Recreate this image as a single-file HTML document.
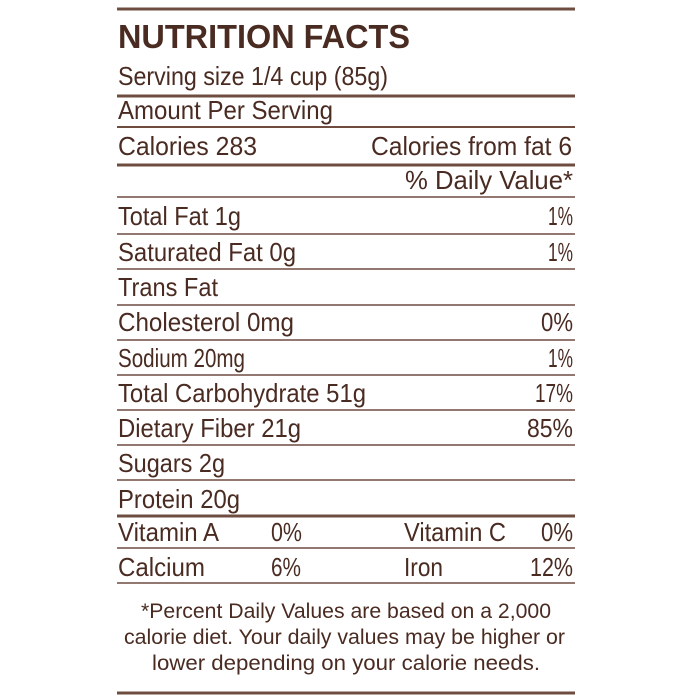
<!DOCTYPE html>
<html><head><style>html,body{margin:0;padding:0;background:#fff}svg{display:block}</style></head>
<body>
<svg width="700" height="700" xmlns="http://www.w3.org/2000/svg">
<g stroke="#6e4c40">
<line x1="117" x2="575" y1="9" y2="9" stroke-width="3"/>
<line x1="117" x2="575" y1="96" y2="96" stroke-width="3"/>
<line x1="117" x2="575" y1="127" y2="127" stroke-width="2"/>
<line x1="117" x2="575" y1="165" y2="165" stroke-width="3"/>
<line x1="117" x2="575" y1="197" y2="197" stroke-width="1.6"/>
<line x1="117" x2="575" y1="234" y2="234" stroke-width="1.6"/>
<line x1="117" x2="575" y1="269" y2="269" stroke-width="1.6"/>
<line x1="117" x2="575" y1="305" y2="305" stroke-width="1.6"/>
<line x1="117" x2="575" y1="340" y2="340" stroke-width="1.6"/>
<line x1="117" x2="575" y1="375" y2="375" stroke-width="1.6"/>
<line x1="117" x2="575" y1="410" y2="410" stroke-width="1.6"/>
<line x1="117" x2="575" y1="445" y2="445" stroke-width="1.6"/>
<line x1="117" x2="575" y1="480" y2="480" stroke-width="1.6"/>
<line x1="117" x2="575" y1="516" y2="516" stroke-width="3"/>
<line x1="117" x2="575" y1="548" y2="548" stroke-width="1.6"/>
<line x1="117" x2="575" y1="583" y2="583" stroke-width="1.6"/>
<line x1="117" x2="575" y1="693" y2="693" stroke-width="3"/>
</g>
<g fill="#4a2b22" font-family="Liberation Sans, sans-serif" font-size="26">
<text x="118" y="48" font-size="33" font-weight="bold" textLength="292" lengthAdjust="spacingAndGlyphs">NUTRITION FACTS</text>
<text x="118" y="85" textLength="270" lengthAdjust="spacingAndGlyphs">Serving size 1/4 cup (85g)</text>
<text x="118" y="119" textLength="215" lengthAdjust="spacingAndGlyphs">Amount Per Serving</text>
<text x="118" y="155" textLength="139" lengthAdjust="spacingAndGlyphs">Calories  283</text>
<text x="371" y="155" textLength="201" lengthAdjust="spacingAndGlyphs">Calories from fat 6</text>
<text x="405" y="189" textLength="168" lengthAdjust="spacingAndGlyphs">% Daily Value*</text>
<text x="118" y="225" textLength="123" lengthAdjust="spacingAndGlyphs">Total Fat 1g</text>
<text x="548" y="225" textLength="25" lengthAdjust="spacingAndGlyphs">1%</text>
<text x="118" y="261" textLength="178" lengthAdjust="spacingAndGlyphs">Saturated Fat 0g</text>
<text x="548" y="261" textLength="25" lengthAdjust="spacingAndGlyphs">1%</text>
<text x="118" y="296" textLength="100" lengthAdjust="spacingAndGlyphs">Trans Fat</text>
<text x="118" y="331" textLength="176" lengthAdjust="spacingAndGlyphs">Cholesterol 0mg</text>
<text x="541" y="331" textLength="32" lengthAdjust="spacingAndGlyphs">0%</text>
<text x="118" y="367" textLength="127" lengthAdjust="spacingAndGlyphs">Sodium 20mg</text>
<text x="548" y="367" textLength="25" lengthAdjust="spacingAndGlyphs">1%</text>
<text x="118" y="402" textLength="248" lengthAdjust="spacingAndGlyphs">Total Carbohydrate 51g</text>
<text x="535" y="402" textLength="38" lengthAdjust="spacingAndGlyphs">17%</text>
<text x="118" y="437" textLength="183" lengthAdjust="spacingAndGlyphs">Dietary Fiber 21g</text>
<text x="527" y="437" textLength="46" lengthAdjust="spacingAndGlyphs">85%</text>
<text x="118" y="472" textLength="107" lengthAdjust="spacingAndGlyphs">Sugars 2g</text>
<text x="118" y="508" textLength="122" lengthAdjust="spacingAndGlyphs">Protein 20g</text>
<text x="118" y="541" textLength="101" lengthAdjust="spacingAndGlyphs">Vitamin A</text>
<text x="271" y="541" textLength="31" lengthAdjust="spacingAndGlyphs">0%</text>
<text x="404" y="541" textLength="102" lengthAdjust="spacingAndGlyphs">Vitamin C</text>
<text x="541" y="541" textLength="32" lengthAdjust="spacingAndGlyphs">0%</text>
<text x="118" y="576" textLength="87" lengthAdjust="spacingAndGlyphs">Calcium</text>
<text x="271" y="576" textLength="30" lengthAdjust="spacingAndGlyphs">6%</text>
<text x="404" y="576" textLength="39" lengthAdjust="spacingAndGlyphs">Iron</text>
<text x="530" y="576" textLength="43" lengthAdjust="spacingAndGlyphs">12%</text>
<text x="141" y="618" font-size="21" textLength="410" lengthAdjust="spacingAndGlyphs">*Percent Daily Values are based on a 2,000</text>
<text x="124" y="644" font-size="21" textLength="441" lengthAdjust="spacingAndGlyphs">calorie diet. Your daily values may be higher or</text>
<text x="152" y="670" font-size="21" textLength="388" lengthAdjust="spacingAndGlyphs">lower depending on your calorie needs.</text>
</g>
</svg>
</body></html>
